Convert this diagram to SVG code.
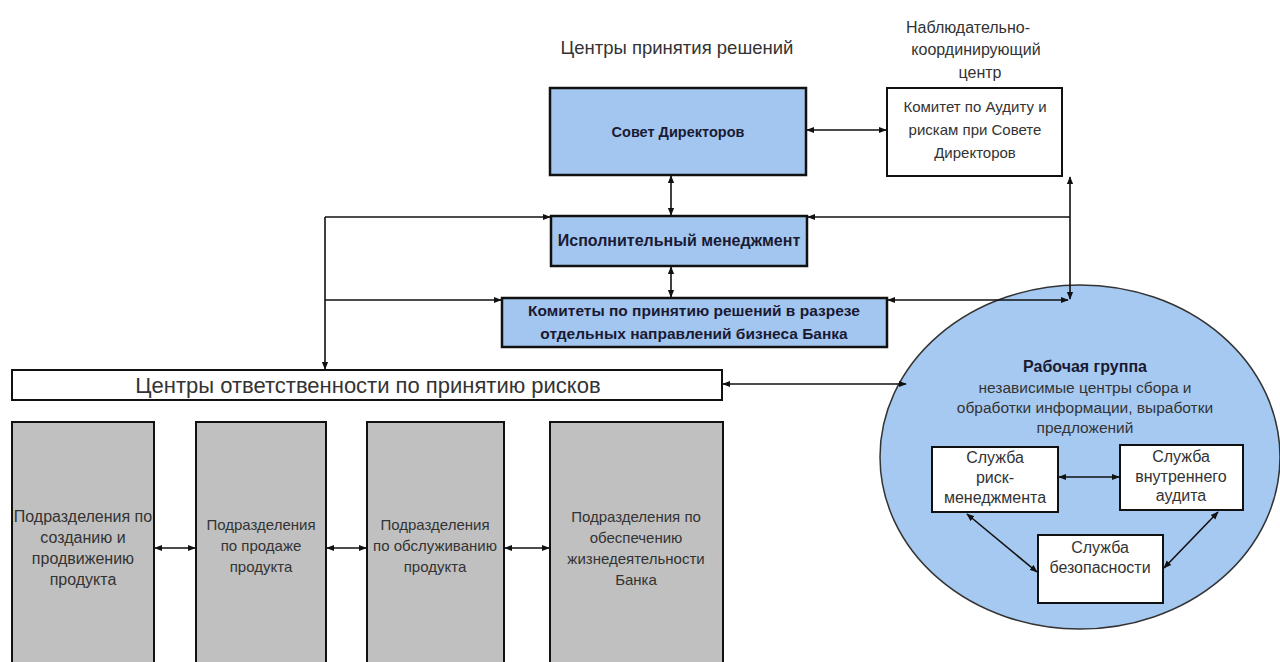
<svg xmlns="http://www.w3.org/2000/svg" width="1280" height="662" viewBox="0 0 1280 662">
<defs>
<marker id="ah" viewBox="0 0 10 10" refX="9" refY="5" markerWidth="8" markerHeight="8" markerUnits="userSpaceOnUse" orient="auto-start-reverse">
<path d="M0,1 L10,5 L0,9 z" fill="#111"/>
</marker>
<style>
text{font-family:"Liberation Sans",Arial,sans-serif;fill:#333;text-anchor:middle}
.hdr{font-size:16px}
.blue{fill:#a3c6f0;stroke:#111;stroke-width:2.5}
.white{fill:#fff;stroke:#111;stroke-width:2}
.gray{fill:#c0c0c0;stroke:#111;stroke-width:2}
.b{font-weight:bold;fill:#1a1a33;font-size:14px}
.t{font-size:15px}
.t16{font-size:16px}
.s{font-size:15.5px}
.s16{font-size:16px}
.b16{font-weight:bold;fill:#1a1a33;font-size:16px}
.b155{font-weight:bold;fill:#1a1a33;font-size:15.5px}
.c2{stroke:#111;stroke-width:1.6;fill:none;marker-end:url(#ah)}
.c3{stroke:#111;stroke-width:1.6;fill:none;marker-start:url(#ah);marker-end:url(#ah)}
</style>
</defs>
<rect width="1280" height="662" fill="#fff"/>

<g id="headers">
<text x="677" y="54" style="font-size:18.5px">Центры принятия решений</text>
<text class="hdr" x="968" y="33">Наблюдательно-</text>
<text class="hdr" x="976" y="55">координирующий</text>
<text class="hdr" x="980" y="78">центр</text>
</g>

<g id="sovet">
<rect class="blue" x="550" y="88" width="256" height="87"/>
<text x="678" y="137" style="font-weight:bold;fill:#1a1a33;font-size:14.5px">Совет Директоров</text>
</g>

<g id="komitet-audit">
<rect class="white" x="887" y="88" width="175" height="88"/>
<text class="t" x="975" y="112">Комитет по  Аудиту и</text>
<text class="t" x="975" y="135">рискам при Совете</text>
<text class="t" x="975" y="158">Директоров</text>
</g>

<g id="ispolnitelny">
<rect class="blue" x="551" y="216" width="256" height="50"/>
<text class="b16" x="679" y="246">Исполнительный менеджмент</text>
</g>

<g id="komitety">
<rect class="blue" x="502" y="298" width="385" height="49"/>
<text class="b155" x="694" y="316">Комитеты по принятию решений в разрезе</text>
<text class="b155" x="694" y="339">отдельных  направлений бизнеса Банка</text>
</g>

<g id="centry-otv">
<rect class="white" x="12" y="370" width="710" height="30"/>
<text x="368" y="393" style="font-size:22px">Центры ответственности по принятию рисков</text>
</g>

<g id="pod1">
<rect class="gray" x="12" y="422" width="142" height="250"/>
<text class="t16" x="83" y="522">Подразделения по</text>
<text class="t16" x="83" y="543">созданию и</text>
<text class="t16" x="83" y="564">продвижению</text>
<text class="t16" x="83" y="585">продукта</text>
</g>
<g id="pod2">
<rect class="gray" x="196" y="422" width="130" height="250"/>
<text class="t" x="261" y="530">Подразделения</text>
<text class="t" x="261" y="551">по продаже</text>
<text class="t" x="261" y="572">продукта</text>
</g>
<g id="pod3">
<rect class="gray" x="367" y="422" width="137" height="250"/>
<text class="t" x="435" y="530">Подразделения</text>
<text class="t" x="435" y="551">по обслуживанию</text>
<text class="t" x="435" y="572">продукта</text>
</g>
<g id="pod4">
<rect class="gray" x="550" y="422" width="173" height="250"/>
<text class="t" x="636" y="522">Подразделения по</text>
<text class="t" x="636" y="543">обеспечению</text>
<text class="t" x="636" y="564">жизнедеятельности</text>
<text class="t" x="636" y="585">Банка</text>
</g>

<g id="rabochaya-gruppa">
<ellipse cx="1080" cy="457" rx="200" ry="172" fill="#a6c9f1" stroke="#333" stroke-width="1.5"/>
<text class="b16" x="1085" y="372">Рабочая группа</text>
<text class="s" x="1085" y="393">независимые центры сбора и</text>
<text class="s" x="1085" y="413">обработки информации, выработки</text>
<text class="s" x="1085" y="433">предложений</text>
</g>
<g id="sluzhba-risk">
<rect class="white" x="932" y="447" width="126" height="65" stroke-width="1.5"/>
<text class="s16" x="995" y="463">Служба</text>
<text class="s16" x="995" y="483">риск-</text>
<text class="s16" x="995" y="503">менеджмента</text>
</g>
<g id="sluzhba-audit">
<rect class="white" x="1120" y="445" width="123" height="65" stroke-width="1.5"/>
<text class="s16" x="1181" y="462">Служба</text>
<text class="s16" x="1181" y="482">внутреннего</text>
<text class="s16" x="1181" y="501">аудита</text>
</g>
<g id="sluzhba-bez">
<rect class="white" x="1038" y="535" width="125" height="68" stroke-width="1.5"/>
<text class="s16" x="1100" y="553">Служба</text>
<text class="s16" x="1100" y="573">безопасности</text>
</g>

<g id="connectors">
<line class="c3" x1="807" y1="130" x2="886" y2="130"/>
<line class="c3" x1="671" y1="176" x2="671" y2="215"/>
<line class="c3" x1="671" y1="267" x2="671" y2="297"/>
<polyline class="c2" points="325,217 550,217"/>
<polyline class="c2" points="325,300 501,300"/>
<line class="c2" x1="325" y1="217" x2="325" y2="369"/>
<line class="c3" x1="1070" y1="177" x2="1070" y2="299"/>
<polyline class="c2" points="1070,217 808,217"/>
<line class="c3" x1="888" y1="300" x2="1068" y2="300"/>
<line class="c3" x1="723" y1="384" x2="906" y2="384"/>
<line class="c3" x1="155" y1="548" x2="195" y2="548"/>
<line class="c3" x1="327" y1="548" x2="366" y2="548"/>
<line class="c3" x1="505" y1="548" x2="549" y2="548"/>
<line class="c3" x1="1059" y1="477" x2="1119" y2="477"/>
<line class="c3" x1="967" y1="514" x2="1037" y2="572"/>
<line class="c3" x1="1218" y1="512" x2="1164" y2="568"/>
</g>
</svg>
